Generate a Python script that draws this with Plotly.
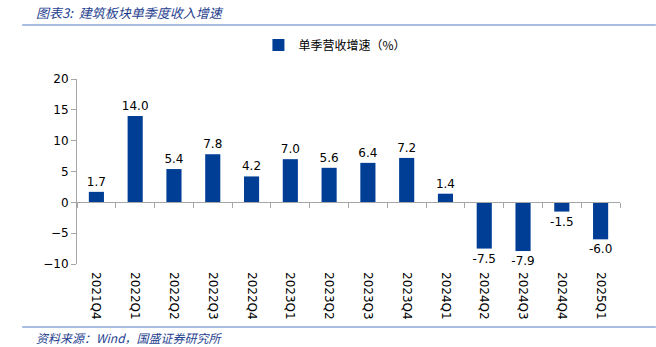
import plotly.graph_objects as go

categories = ["2021Q4", "2022Q1", "2022Q2", "2022Q3", "2022Q4", "2023Q1", "2023Q2",
              "2023Q3", "2023Q4", "2024Q1", "2024Q2", "2024Q3", "2024Q4", "2025Q1"]
values = [1.7, 14.0, 5.4, 7.8, 4.2, 7.0, 5.6, 6.4, 7.2, 1.4, -7.5, -7.9, -1.5, -6.0]
series_name = "单季营收增速（%）"
y_ticks = [-10, -5, 0, 5, 10, 15, 20]

BAR = "#003E96"
GREY = "#A6A6A6"
FONT = "DejaVu Sans"

fig = go.Figure()
fig.add_trace(go.Bar(
    x=categories, y=values, name=series_name,
    marker=dict(color=BAR, line=dict(width=0)),
    width=0.39,
    text=[f"{v:.1f}" for v in values], textposition="outside",
    textfont=dict(family=FONT, size=12, color="#000000"),
    constraintext="none",
    cliponaxis=False,
))
# invisible trace to carry the zero-line category axis
fig.add_trace(go.Scatter(x=categories, y=[0]*len(categories), xaxis="x2", mode="markers",
                         marker=dict(opacity=0), showlegend=False, hoverinfo="skip"))

fig.update_layout(
    width=656, height=347,
    margin=dict(l=77, r=36, t=79, b=83),
    paper_bgcolor="white", plot_bgcolor="white",
    showlegend=True,
    legend=dict(orientation="h", x=0.475, xanchor="center", y=1.184, yanchor="middle",
                font=dict(family="Noto Sans CJK SC", size=12, color="#000000"),
                itemwidth=30),
    xaxis=dict(type="category", tickangle=90, showline=False, ticks="",
               tickfont=dict(family=FONT, size=12, color="#000000"),
               ticklabelstandoff=7,
               showgrid=False, zeroline=False, range=[-0.5, len(categories)-0.5]),
    xaxis2=dict(type="category", overlaying="x", anchor="free", position=1/3, side="bottom",
                showline=True, linecolor=GREY, linewidth=1, ticks="outside", ticklen=5,
                tickcolor=GREY, tickson="boundaries", showticklabels=False,
                showgrid=False, zeroline=False, range=[-0.5, len(categories)-0.5]),
    yaxis=dict(range=[-10, 20], tickvals=y_ticks, showline=True, linecolor=GREY, linewidth=1,
               ticks="outside", ticklen=5, tickcolor=GREY, showgrid=False, zeroline=False,
               tickfont=dict(family=FONT, size=12, color="#000000")),
)

fig.add_annotation(text="<i>图表3:  建筑板块单季度收入增速</i>", xref="paper", yref="paper",
                   x=-0.08, y=1.362, xanchor="left", yanchor="middle", showarrow=False,
                   font=dict(family="Noto Sans CJK SC", size=13, color="#1F3F8F"))
fig.add_annotation(text="<i>资料来源：Wind，国盛证券研究所</i>", xref="paper", yref="paper",
                   x=-0.08, y=-0.395, xanchor="left", yanchor="middle", showarrow=False,
                   font=dict(family="Noto Sans CJK SC", size=12, color="#1F3F8F"))
fig.add_shape(type="line", xref="paper", yref="paper", x0=-0.101, x1=1.066, y0=1.292, y1=1.292,
              line=dict(color="#A9BDE0", width=2))
fig.add_shape(type="line", xref="paper", yref="paper", x0=-0.101, x1=1.066, y0=-0.34, y1=-0.34,
              line=dict(color="#A9BDE0", width=2))

fig.write_html("out.html")
